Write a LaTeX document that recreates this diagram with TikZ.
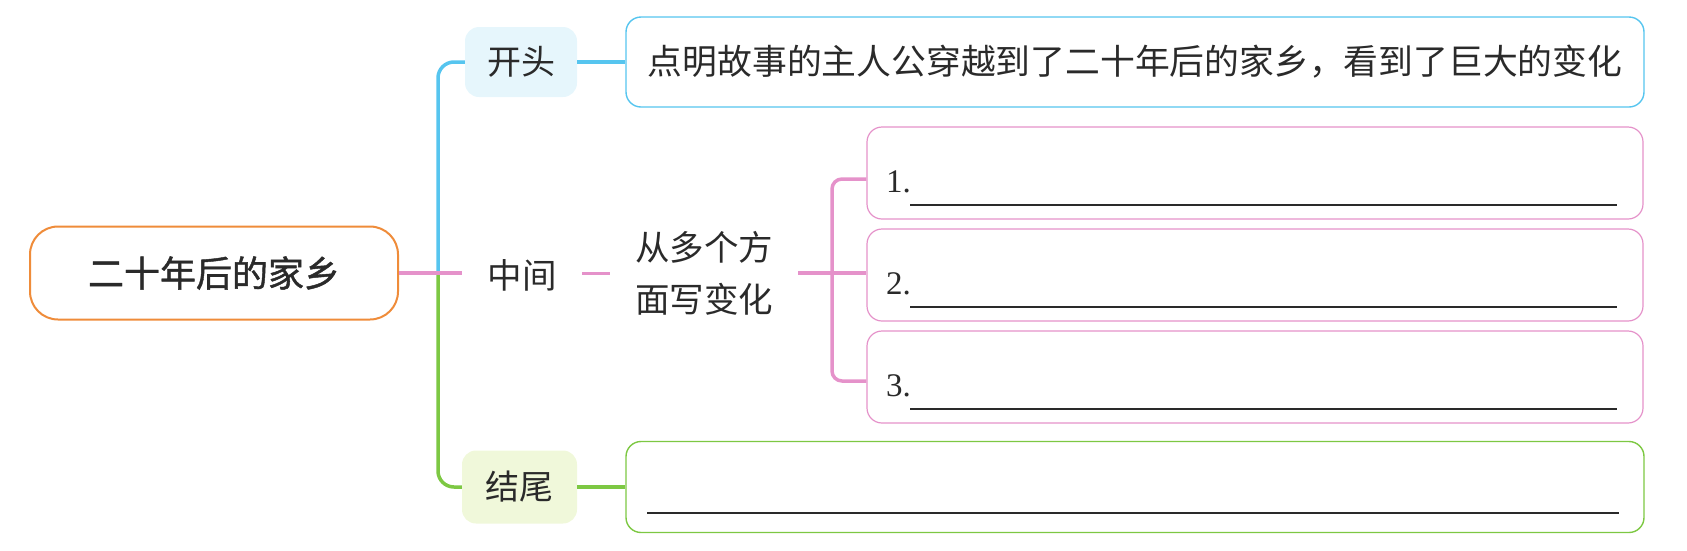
\documentclass[tikz,border=0pt]{standalone}
\usepackage{fontspec}
\newfontfamily\cjk{Noto Sans CJK SC}
\newfontfamily\cjkb[FakeBold=1.2]{Noto Sans CJK SC}
\newfontfamily\numfont{Liberation Serif}
\usetikzlibrary{calc}
\definecolor{cblue}{HTML}{56C5EF}
\definecolor{cpink}{HTML}{E592CA}
\definecolor{cgreen}{HTML}{7DC843}
\definecolor{corange}{HTML}{EF8C3A}
\definecolor{fblue}{HTML}{E6F6FC}
\definecolor{fgreen}{HTML}{F0F8DA}
\definecolor{ctext}{HTML}{2A2A2A}
\tikzset{
  rootbox/.style={draw=corange, line width=2pt, rounded corners=28pt, fill=white,
    minimum width=368pt, minimum height=93pt, inner sep=0pt, text=ctext,
    font=\cjkb\fontsize{36}{40}\selectfont},
  tagbox/.style={rounded corners=14pt, inner sep=0pt, text=ctext,
    font=\cjk\fontsize{34}{40}\selectfont},
  plaintxt/.style={inner sep=0pt, text=ctext, font=\cjk\fontsize{34.5}{52}\selectfont},
  infobox/.style={rounded corners=15pt, line width=1.4pt, fill=white, inner sep=0pt,
    text=ctext, font=\cjk\fontsize{34.8}{40}\selectfont},
  numtxt/.style={inner sep=0pt, text=ctext, font=\numfont\fontsize{33}{40}\selectfont},
  branch/.style={line width=3.5pt},
  uline/.style={draw=ctext, line width=1.6pt},
}
\begin{document}
\begin{tikzpicture}[x=1pt,y=-1pt]
\useasboundingbox (0,0) rectangle (1687,550);
% root
\node[rootbox] (root) at (214,273) {二十年后的家乡};
\coordinate (j) at (438,273);
% tags
\node[tagbox, fill=fblue, minimum width=112pt, minimum height=70pt] (kt) at (521,62) {开头};
\node[plaintxt, minimum width=120pt] (zj) at (522,275) {中间};
\node[tagbox, fill=fgreen, minimum width=115pt, minimum height=73pt] (jw) at (519.5,487) {结尾};
% info boxes
\node[infobox, draw=cblue, minimum width=1018pt, minimum height=90pt] (desc) at (1135,62)
  {点明故事的主人公穿越到了二十年后的家乡，看到了巨大的变化};
\node[infobox, draw=cgreen, minimum width=1018pt, minimum height=91pt] (endb) at (1135,487) {};
\node[plaintxt, align=center, minimum width=188pt] (mid) at (704,273) {从多个方\\面写变化};
\foreach \i/\y in {1/173,2/275,3/377}{
  \node[infobox, draw=cpink, line width=1.2pt, minimum width=776pt, minimum height=92pt] (b\i) at (1255,\y) {};
  \node[numtxt, anchor=base west] (n\i) at ($(b\i.center)+(-369,19)$) {\i.};
  \draw[uline] ($(b\i.center)+(-345,32)$) -- ($(b\i.center)+(362,32)$);
}
\draw[uline] ($(endb.center)+(-488,26)$) -- ($(endb.center)+(484,26)$);
% connectors
\draw[cblue, branch, rounded corners=16pt] (kt.west) -| (j);
\draw[cgreen, branch, rounded corners=16pt] (jw.west) -| (j);
\draw[cpink, branch] (root.east) -- (root.east -| zj.west);
\draw[cblue, branch] (kt.east) -- (desc.west);
\draw[cgreen, branch] (jw.east) -- (endb.west);
\draw[cpink, line width=3pt] (zj.east |- mid.west) -- (mid.west);
\coordinate (bx) at (832,273);
\draw[cpink, line width=3.5pt] (mid.east) -- (mid.east -| b2.west);
\draw[cpink, line width=3.5pt, rounded corners=10pt] ($(b1.west)+(0,6)$) -| (bx) |- ($(b3.west)+(0,4)$);
\end{tikzpicture}
\end{document}
